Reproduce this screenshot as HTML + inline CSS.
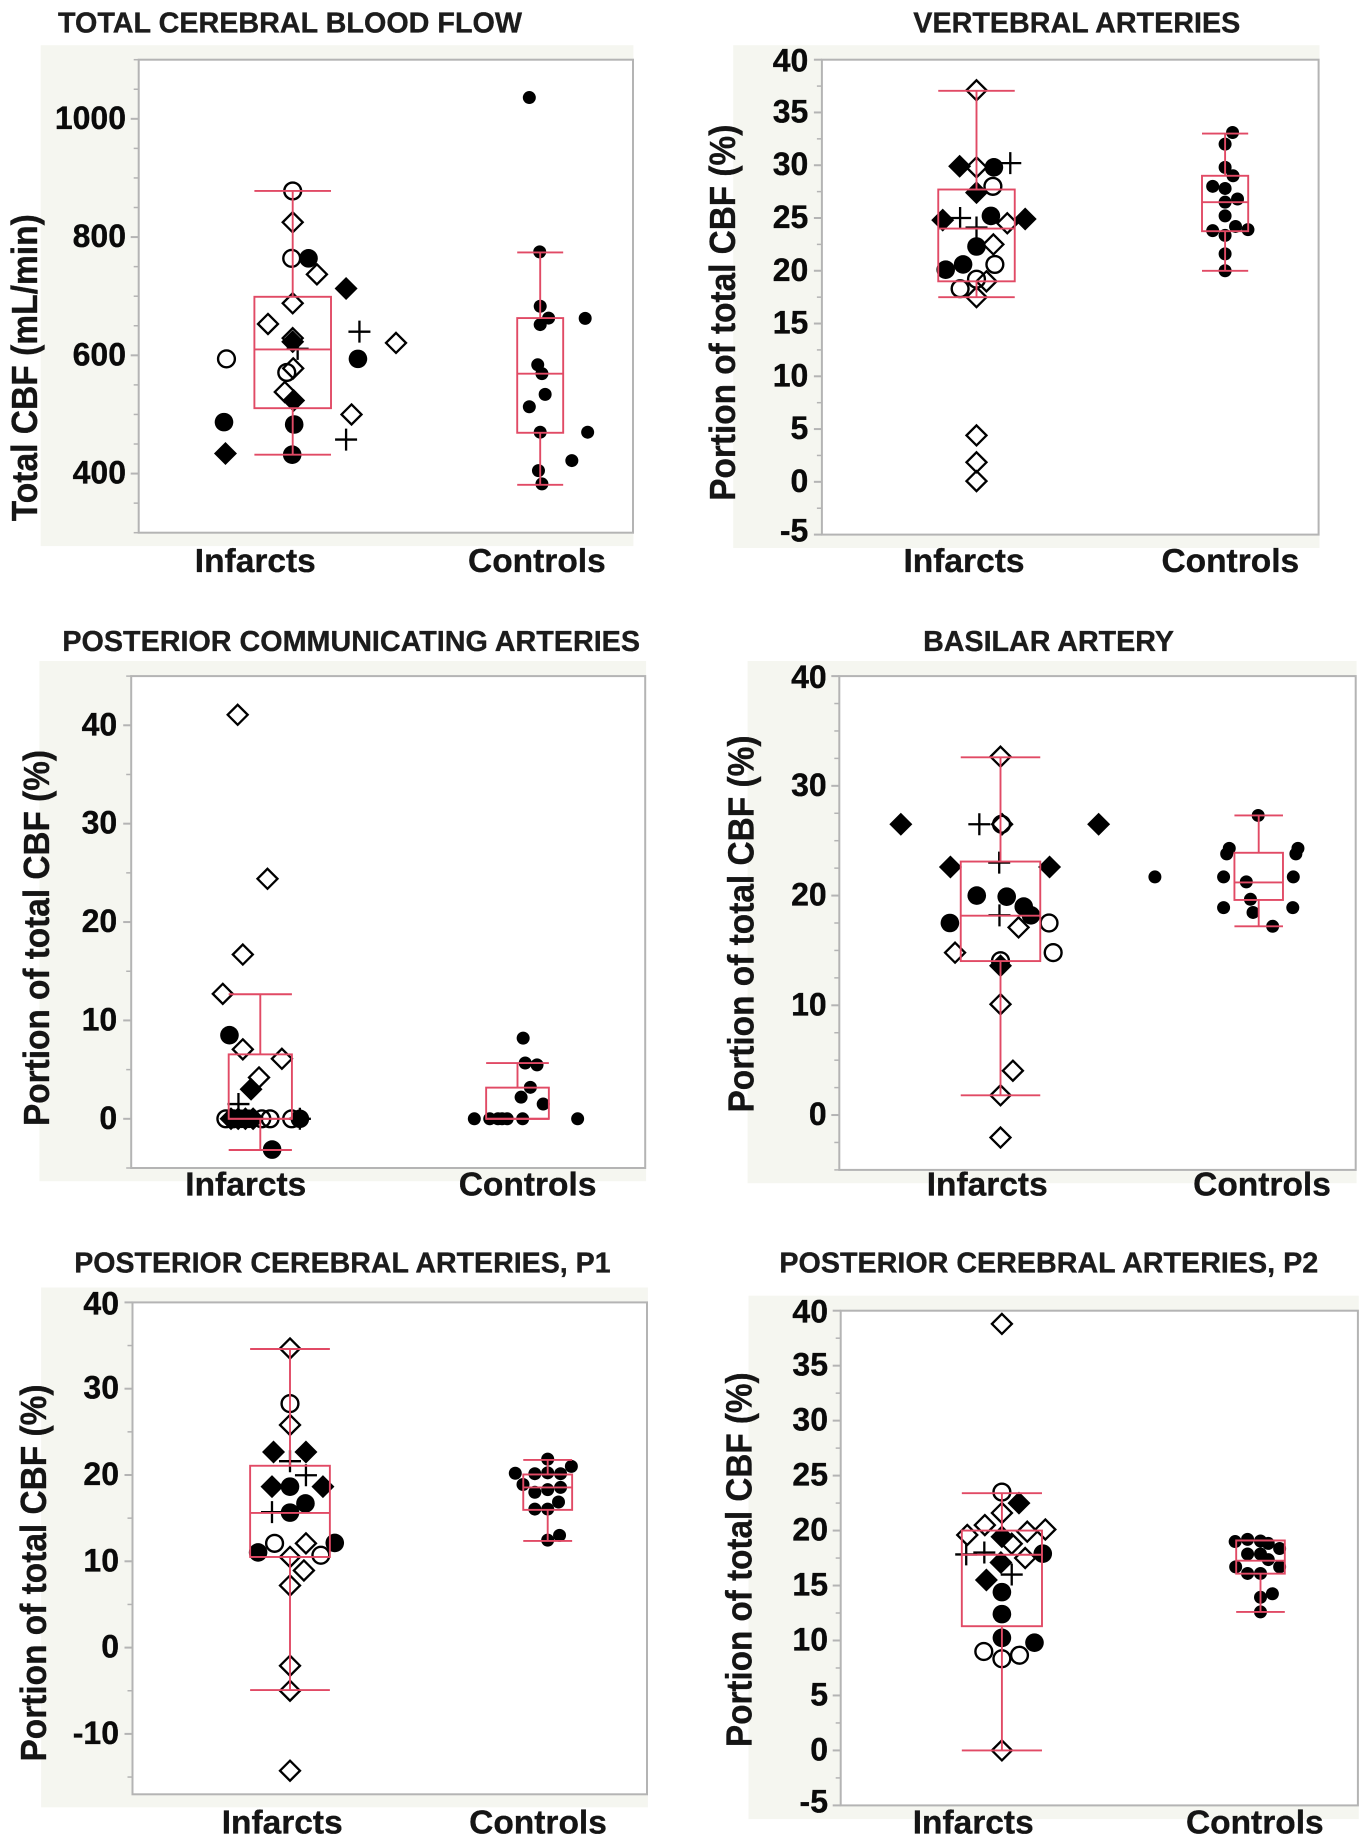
<!DOCTYPE html>
<html lang="en">
<head>
<meta charset="utf-8">
<title>Cerebral blood flow by vessel: infarcts versus controls</title>
<style>
html,body{margin:0;padding:0;background:#fff;}
svg{display:block;filter:blur(0.35px);}
text{font-family:"Liberation Sans",Arial,sans-serif;font-weight:bold;fill:#111;stroke:#111;stroke-width:0.35px;}
.title{font-size:29px;fill:#1c1c1c;stroke:#1c1c1c;}
.ytitle{font-size:36px;fill:#151515;stroke:#151515;}
.cat{font-size:33.5px;fill:#151515;stroke:#151515;}
.tick{font-size:32px;fill:#0a0a0a;stroke:#0a0a0a;text-anchor:end;}
.panel{fill:#f5f6f0;}
.frame{fill:#fff;stroke:#b4b4b4;stroke-width:2;}
</style>
</head>
<body>
<svg xmlns="http://www.w3.org/2000/svg" width="1371" height="1847" viewBox="0 0 1371 1847">
  <rect x="0" y="0" width="1371" height="1847" fill="#fff"/>

  <g id="tcbf">
    <rect class="panel" x="40.7" y="45.2" width="592.7" height="500.9"/>
    <rect class="frame" x="138.7" y="59.7" width="494.3" height="473"/>
    <text class="title" x="58" y="32.5" textLength="464" lengthAdjust="spacingAndGlyphs">TOTAL CEREBRAL BLOOD FLOW</text>
    <text class="ytitle" transform="translate(37.2,367.7) rotate(-90)" text-anchor="middle" textLength="307" lengthAdjust="spacingAndGlyphs">Total CBF (mL/min)</text>
    <text class="cat" x="255.3" y="571.9" text-anchor="middle">Infarcts</text>
    <text class="cat" x="536.9" y="571.9" text-anchor="middle">Controls</text>
  </g>

  <g id="vert">
    <rect class="panel" x="733.2" y="45.2" width="586.3" height="502.8"/>
    <rect class="frame" x="821.9" y="59.7" width="496.7" height="474.9"/>
    <text class="title" x="913.3" y="32.5" textLength="327" lengthAdjust="spacingAndGlyphs">VERTEBRAL ARTERIES</text>
    <text class="ytitle" transform="translate(734.9,312.7) rotate(-90)" text-anchor="middle" textLength="376" lengthAdjust="spacingAndGlyphs">Portion of total CBF (%)</text>
    <text class="cat" x="964" y="571.9" text-anchor="middle">Infarcts</text>
    <text class="cat" x="1230.3" y="571.9" text-anchor="middle">Controls</text>
  </g>

  <g id="pcom">
    <rect class="panel" x="39.4" y="661" width="606.7" height="520.2"/>
    <rect class="frame" x="131.2" y="676.1" width="514" height="491.9"/>
    <text class="title" x="62.4" y="650.9" textLength="577.6" lengthAdjust="spacingAndGlyphs">POSTERIOR COMMUNICATING ARTERIES</text>
    <text class="ytitle" transform="translate(49,938) rotate(-90)" text-anchor="middle" textLength="376" lengthAdjust="spacingAndGlyphs">Portion of total CBF (%)</text>
    <text class="cat" x="245.8" y="1195.3" text-anchor="middle">Infarcts</text>
    <text class="cat" x="527.6" y="1195.3" text-anchor="middle">Controls</text>
  </g>

  <g id="basi">
    <rect class="panel" x="747.6" y="661" width="609" height="522.2"/>
    <rect class="frame" x="839.3" y="676.1" width="516.4" height="493.8"/>
    <text class="title" x="923.1" y="651" textLength="250.9" lengthAdjust="spacingAndGlyphs">BASILAR ARTERY</text>
    <text class="ytitle" transform="translate(753.7,924) rotate(-90)" text-anchor="middle" textLength="377" lengthAdjust="spacingAndGlyphs">Portion of total CBF (%)</text>
    <text class="cat" x="987.2" y="1195.3" text-anchor="middle">Infarcts</text>
    <text class="cat" x="1262" y="1195.3" text-anchor="middle">Controls</text>
  </g>

  <g id="pone">
    <rect class="panel" x="41.1" y="1287.5" width="606.8" height="519.8"/>
    <rect class="frame" x="132.5" y="1302.4" width="514.5" height="491.9"/>
    <text class="title" x="74.2" y="1272.5" textLength="536.4" lengthAdjust="spacingAndGlyphs">POSTERIOR CEREBRAL ARTERIES, P1</text>
    <text class="ytitle" transform="translate(45.9,1573) rotate(-90)" text-anchor="middle" textLength="377" lengthAdjust="spacingAndGlyphs">Portion of total CBF (%)</text>
    <text class="cat" x="282.2" y="1833.4" text-anchor="middle">Infarcts</text>
    <text class="cat" x="538" y="1833.4" text-anchor="middle">Controls</text>
  </g>

  <g id="ptwo">
    <rect class="panel" x="748.5" y="1295.7" width="610.3" height="523.4"/>
    <rect class="frame" x="840.7" y="1310.7" width="517.2" height="494.7"/>
    <text class="title" x="779.4" y="1272.5" textLength="538.8" lengthAdjust="spacingAndGlyphs">POSTERIOR CEREBRAL ARTERIES, P2</text>
    <text class="ytitle" transform="translate(751.5,1559.7) rotate(-90)" text-anchor="middle" textLength="374.5" lengthAdjust="spacingAndGlyphs">Portion of total CBF (%)</text>
    <text class="cat" x="973.2" y="1833.4" text-anchor="middle">Infarcts</text>
    <text class="cat" x="1254.8" y="1833.4" text-anchor="middle">Controls</text>
  </g>
</svg>

<script>
// Marker codes: D open diamond, K filled diamond, O open circle, C filled circle, P plus.
// Jitter is a horizontal offset from the group centre, in percent of plot width.
// Box arrays: [lower whisker, Q1, median, Q3, upper whisker].

// Total cerebral blood flow
const tcbfTicks = [400, 600, 800, 1000];
const tcbfInfarctValues = [878, 825, 764, 764, 737, 713, 688, 653, 629, 623, 640, 611, 621, 594, 594, 578, 571, 538, 523.5, 500, 487, 483, 457.5, 434, 432];
const tcbfInfarctJitter = [0, 0, -0.2, 3.2, 4.9, 10.8, 0, -5, 0, 0, 13.5, 1, 20.9, -13.4, 13.2, 0.1, -1.2, -1.6, 0.2, 11.9, -13.9, 0.3, 10.8, -13.6, -0.1];
const tcbfInfarctMarkers = ['O','D','O','C','D','K','D','D','D','K','P','P','D','O','C','D','O','D','K','D','C','C','P','K','C'];
const tcbfInfarctBox = [432, 510.6, 610, 699, 878];
const tcbfControlValues = [1036, 775, 683, 663, 662.5, 652, 584, 569, 534, 513, 470, 470, 422, 405, 382.5];
const tcbfControlJitter = [-2.2, -0.1, 0, 1.7, 9.1, 0, -0.5, 0.35, 1, -2.2, 0, 9.6, 6.4, -0.35, 0.35];
const tcbfControlBox = [381, 469, 569, 663, 774];

// Vertebral arteries
const vertTicks = [-5, 0, 5, 10, 15, 20, 25, 30, 35, 40];
const vertInfarctValues = [37.1, 29.9, 29.8, 29.8, 30.2, 28, 27.4, 24.8, 25, 25.2, 24.1, 24.5, 24.9, 22.5, 22.3, 20.1, 20.6, 20.6, 19.2, 19, 18.3, 17.5, 4.4, 1.85, 0.07];
const vertInfarctJitter = [0, -3.4, 0, 3.5, 6.8, 3.3, 0, -6.8, -3.3, 2.9, 0, 6.2, 9.8, 3.4, 0, -6.2, -2.7, 3.7, 0, 2, -3.3, 0, 0, 0, 0];
const vertInfarctMarkers = ['D','K','D','C','P','O','K','K','P','C','P','D','K','D','C','C','C','O','O','D','O','D','D','D','D'];
const vertInfarctBox = [17.5, 19, 24, 27.7, 37.05];
const vertControlValues = [33.1, 32, 29.8, 29, 28, 27.8, 26.8, 26.5, 25.2, 24.2, 23.9, 23.8, 23.35, 21.6, 20];
const vertControlJitter = [1.5, 0, 0, 1.6, -2.5, 0, 2.5, 0, 0, 2.1, 4.6, -2.5, 0, 0, 0];
const vertControlBox = [20, 23.75, 26.5, 29, 33];

// Posterior communicating arteries
const pcomTicks = [0, 10, 20, 30, 40];
const pcomInfarctValues = [41.07, 24.4, 16.7, 12.7, 8.5, 7.06, 6.1, 4.2, 3, 1.5, 0, 0, 0, 0, 0, 0, 0, 0, 0, 0, 0, 0, 0, -3.13];
const pcomInfarctJitter = [-4.4, 1.4, -3.4, -7.3, -6, -3.4, 4.2, -0.25, -1.8, -4.25, -6.7, 1.9, 0.3, 6.1, -5.3, -5.7, -4.3, -2.9, -1.4, -3.6, -2.2, 7.7, 7.7, 2.3];
const pcomInfarctMarkers = ['D','D','D','D','C','D','D','D','K','P','O','O','O','O','O','K','K','K','K','C','C','C','P','C'];
const pcomInfarctBox = [-3.17, 0, 0, 6.55, 12.66];
const pcomControlValues = [8.2, 5.67, 5.48, 3.2, 2.2, 1.5, 0, 0, 0, 0, 0, 0, 0];
const pcomControlJitter = [1.1, 1.5, 3.8, 2.5, 0.7, 5, -8.4, -5.4, -3.8, -2, 1, 11.7, -3];
const pcomControlBox = [0, 0, 0, 3.17, 5.67];

// Basilar artery
const basiTicks = [0, 10, 20, 30, 40];
const basiInfarctValues = [32.66, 26.5, 26.5, 26.5, 26.5, 26.5, 23, 22.6, 22.6, 20, 19.9, 19, 18.2, 18.2, 17.5, 17.5, 17.1, 14.8, 14.8, 14.06, 13.6, 10.1, 4.04, 1.8, -2.05];
const basiInfarctJitter = [0, -19.3, -4.1, 0.3, 0.2, 19, -0.25, -9.7, 9.5, -4.6, 1.2, 4.5, 5.9, -0.2, -9.8, 9.4, 3.5, -8.8, 10.2, 0, 0, 0, 2.4, 0, 0];
const basiInfarctMarkers = ['D','K','P','D','O','K','P','K','K','C','C','C','C','P','C','O','D','D','O','O','K','D','D','D','D'];
const basiInfarctBox = [1.8, 14.03, 18.17, 23.1, 32.6];
const basiControlValues = [27.3, 24.3, 23.8, 24.3, 23.8, 21.7, 21.7, 21.7, 21.25, 19.66, 18.9, 18.9, 18.46, 17.2];
const basiControlJitter = [-0.1, -5.7, -6.2, 7.6, 7.2, -20.1, -6.8, 6.7, -2.4, -1.6, -6.8, 6.6, -1.1, 2.7];
const basiControlBox = [17.2, 19.6, 21.2, 23.9, 27.3];

// Posterior cerebral arteries, P1
const poneTicks = [-10, 0, 10, 20, 30, 40];
const poneInfarctValues = [34.66, 28.27, 25.8, 22.66, 22.66, 21.6, 19.97, 18.65, 18.65, 18.65, 16.7, 15.64, 15.7, 12.08, 12.08, 12.13, 11.03, 10.7, 10.5, 8.94, 7.2, -2.1, -5, -14.27];
const poneInfarctJitter = [0, 0, 0, -3.2, 3.1, 0, 3.1, -3.5, 0, 6.4, 3, 0, -3.5, -3, 3.1, 8.7, -6.2, 6, 0, 2.7, 0, 0, 0, 0];
const poneInfarctMarkers = ['D','O','D','K','K','P','P','K','C','K','C','C','P','O','D','C','C','O','D','D','D','D','D','D'];
const poneInfarctBox = [-4.92, 10.5, 15.6, 21.07, 34.6];
const poneControlValues = [21.84, 21, 20.2, 20.15, 20.25, 20.15, 18.9, 18, 18.3, 18.56, 16.87, 16.05, 16.05, 13, 12.45];
const poneControlJitter = [0, 4.6, -6.3, -2.5, 0, 2.5, -4.8, -2.5, 0, 2.5, 2.1, -2.5, 0, 2.3, 0];
const poneControlBox = [12.36, 15.96, 18.56, 20.06, 21.75];

// Posterior cerebral arteries, P2
const ptwoTicks = [-5, 0, 5, 10, 15, 20, 25, 30, 35, 40];
const ptwoInfarctValues = [38.8, 23.5, 22.5, 21.6, 20.5, 19.6, 19.9, 20.1, 19.44, 18.8, 17.83, 18, 17.5, 17.9, 17.1, 15.5, 16, 14.4, 12.4, 10.24, 9.8, 9, 8.66, 8.34, 0];
const ptwoInfarctJitter = [0, 0, 3.3, 0, -3.3, -6.7, 4.9, 8.4, 0, 1.9, -6.9, -3.4, 4.5, 7.9, -0.2, -3, 1.9, 0, 0, 0, 6.3, -3.5, 3.4, 0, 0];
const ptwoInfarctMarkers = ['D','O','K','D','D','D','D','D','K','D','P','P','D','C','K','K','P','C','C','C','C','O','O','O','D'];
const ptwoInfarctBox = [0, 11.3, 17.8, 20, 23.4];
const ptwoControlValues = [19, 19.2, 19.05, 18.83, 18.37, 17.87, 17.87, 17.36, 16.7, 16.7, 16.1, 16.1, 14.25, 13.93, 12.6];
const ptwoControlJitter = [-4.9, -2.5, 0, 1.5, 3.7, -2.5, 0, 1.5, -4.8, 3.7, -2.5, 0, 2.3, 0, 0];
const ptwoControlBox = [12.6, 16.08, 17.26, 19.1, 19.1];

const SVG_NS = 'http://www.w3.org/2000/svg';
const RED = '#e14a65';

function make(tag, attrs, parent) {
  const node = document.createElementNS(SVG_NS, tag);
  for (const key in attrs) node.setAttribute(key, attrs[key]);
  parent.appendChild(node);
  return node;
}

function drawMarker(parent, kind, x, y, r) {
  const ink = '#000';
  let el;
  if (kind === 'C') {
    el = make('circle', {cx: x, cy: y, r: r, fill: ink}, parent);
    
  } else if (kind === 'O') {
    el = make('circle', {cx: x, cy: y, r: r - 0.9, fill: 'none', stroke: ink, 'stroke-width': 2.4}, parent);
    
  } else if (kind === 'K') {
    el = make('path', {d: 'M' + x + ' ' + (y - 11.5) + 'L' + (x + 11.5) + ' ' + y + 'L' + x + ' ' + (y + 11.5) + 'L' + (x - 11.5) + ' ' + y + 'Z', fill: ink}, parent);
    
  } else if (kind === 'D') {
    el = make('path', {d: 'M' + x + ' ' + (y - 10) + 'L' + (x + 10) + ' ' + y + 'L' + x + ' ' + (y + 10) + 'L' + (x - 10) + ' ' + y + 'Z', fill: 'none', stroke: ink, 'stroke-width': 2.3}, parent);
    
  } else {
    el = make('path', {d: 'M' + (x - 11) + ' ' + y + 'H' + (x + 11) + 'M' + x + ' ' + (y - 11) + 'V' + (y + 11), fill: 'none', stroke: ink, 'stroke-width': 2.3}, parent);
    
  }
  
}

function drawBox(parent, box, cx, halfWidth, yScale) {
  const lo = yScale(box[0]), q1 = yScale(box[1]), med = yScale(box[2]), q3 = yScale(box[3]), hi = yScale(box[4]);
  const rect = make('rect', {x: cx - halfWidth, y: q3, width: halfWidth * 2, height: q1 - q3, fill: 'none', stroke: RED, 'stroke-width': 1.9}, parent);
  
  
  const median = make('line', {x1: cx - halfWidth, x2: cx + halfWidth, y1: med, y2: med, stroke: RED, 'stroke-width': 1.9}, parent);
  
  
  const upper = make('path', {d: 'M' + cx + ' ' + q3 + 'V' + hi + 'M' + (cx - halfWidth) + ' ' + hi + 'H' + (cx + halfWidth), fill: 'none', stroke: RED, 'stroke-width': 1.9}, parent);
  
  
  const lower = make('path', {d: 'M' + cx + ' ' + q1 + 'V' + lo + 'M' + (cx - halfWidth) + ' ' + lo + 'H' + (cx + halfWidth), fill: 'none', stroke: RED, 'stroke-width': 1.9}, parent);
  
  
}

function drawChart(c) {
  const root = document.getElementById(c.id);
  const span = c.domain[1] - c.domain[0];
  const yScale = v => c.top + (c.domain[1] - v) / span * (c.bottom - c.top);
  const width = c.right - c.left;
  const xScale = (group, jitter) => c.centers[group] + jitter / 100 * width;

  // Minor ticks, from the axis step
  for (let v = Math.ceil(c.domain[0] / c.minorStep) * c.minorStep; v <= c.domain[1]; v += c.minorStep) {
    if (c.ticks.indexOf(v) >= 0) continue;
    const minor = make('line', {x1: c.left - 5, x2: c.left, y1: yScale(v), y2: yScale(v), stroke: '#b4b4b4', 'stroke-width': 1.5}, root);
    
    
  }
  // Major ticks and labels
  c.ticks.forEach(v => {
    const major = make('line', {x1: c.left - 8, x2: c.left, y1: yScale(v), y2: yScale(v), stroke: '#b4b4b4', 'stroke-width': 2}, root);
    
    
    // Labels at the frame ends are nudged inward, as in the figure
    const nudge = v === c.domain[1] ? 2 : (v === c.domain[0] ? -3 : 0);
    const label = make('text', {x: c.labelX, y: yScale(v) + 10 + nudge, class: 'tick'}, root);
    label.textContent = String(v);
    
    
  });

  // Points first, so the red box sits on top of them
  c.infarctValues.forEach((v, i) => {
    drawMarker(root, c.infarctMarkers[i], xScale(0, c.infarctJitter[i]), yScale(v), 9.3);
  });
  c.controlValues.forEach((v, i) => {
    drawMarker(root, 'C', xScale(1, c.controlJitter[i]), yScale(v), 6.5);
  });

  drawBox(root, c.infarctBox, c.centers[0], c.boxWidths[0] / 200 * width, yScale);
  drawBox(root, c.controlBox, c.centers[1], c.boxWidths[1] / 200 * width, yScale);
}

drawChart({id: 'tcbf', domain: [300, 1100], minorStep: 50, top: 59.7, bottom: 532.7, left: 138.7, right: 633, centers: [292.7, 540.2], boxWidths: [15.5, 9.3], labelX: 126,
  ticks: tcbfTicks, infarctValues: tcbfInfarctValues, infarctJitter: tcbfInfarctJitter, infarctMarkers: tcbfInfarctMarkers, infarctBox: tcbfInfarctBox, controlValues: tcbfControlValues, controlJitter: tcbfControlJitter, controlBox: tcbfControlBox});
drawChart({id: 'vert', domain: [-5, 40], minorStep: 2.5, top: 59.7, bottom: 534.6, left: 821.9, right: 1318.6, centers: [976.5, 1225.1], boxWidths: [15.4, 9.3], labelX: 808.3,
  ticks: vertTicks, infarctValues: vertInfarctValues, infarctJitter: vertInfarctJitter, infarctMarkers: vertInfarctMarkers, infarctBox: vertInfarctBox, controlValues: vertControlValues, controlJitter: vertControlJitter, controlBox: vertControlBox});
drawChart({id: 'pcom', domain: [-5, 45], minorStep: 5, top: 676.1, bottom: 1168, left: 131.2, right: 645.2, centers: [260.3, 517.5], boxWidths: [12.3, 12.2], labelX: 117.2,
  ticks: pcomTicks, infarctValues: pcomInfarctValues, infarctJitter: pcomInfarctJitter, infarctMarkers: pcomInfarctMarkers, infarctBox: pcomInfarctBox, controlValues: pcomControlValues, controlJitter: pcomControlJitter, controlBox: pcomControlBox});
drawChart({id: 'basi', domain: [-5, 40], minorStep: 2.5, top: 676.1, bottom: 1169.9, left: 839.3, right: 1355.7, centers: [1000.5, 1258.7], boxWidths: [15.4, 9.4], labelX: 826.7,
  ticks: basiTicks, infarctValues: basiInfarctValues, infarctJitter: basiInfarctJitter, infarctMarkers: basiInfarctMarkers, infarctBox: basiInfarctBox, controlValues: basiControlValues, controlJitter: basiControlJitter, controlBox: basiControlBox});
drawChart({id: 'pone', domain: [-17, 40], minorStep: 5, top: 1302.4, bottom: 1794.3, left: 132.5, right: 647, centers: [290, 547.7], boxWidths: [15.5, 9.5], labelX: 119,
  ticks: poneTicks, infarctValues: poneInfarctValues, infarctJitter: poneInfarctJitter, infarctMarkers: poneInfarctMarkers, infarctBox: poneInfarctBox, controlValues: poneControlValues, controlJitter: poneControlJitter, controlBox: poneControlBox});
drawChart({id: 'ptwo', domain: [-5, 40], minorStep: 2.5, top: 1310.7, bottom: 1805.4, left: 840.7, right: 1357.9, centers: [1001.9, 1260.5], boxWidths: [15.5, 9.4], labelX: 828,
  ticks: ptwoTicks, infarctValues: ptwoInfarctValues, infarctJitter: ptwoInfarctJitter, infarctMarkers: ptwoInfarctMarkers, infarctBox: ptwoInfarctBox, controlValues: ptwoControlValues, controlJitter: ptwoControlJitter, controlBox: ptwoControlBox});
</script>
</body>
</html>
